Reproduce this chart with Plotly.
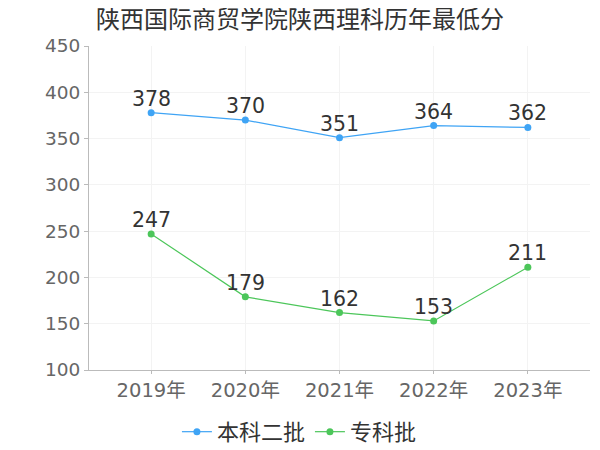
import plotly.graph_objects as go

years = ["2019年", "2020年", "2021年", "2022年", "2023年"]
benke = [378, 370, 351, 364, 362]
zhuanke = [247, 179, 162, 153, 211]

FONT = "DejaVu Sans, Noto Sans CJK SC"

fig = go.Figure()
fig.add_trace(go.Scatter(
    x=years, y=benke, name="本科二批", mode="lines+markers",
    line=dict(color="#3fa4f5", width=1.2),
    marker=dict(color="#3fa4f5", size=7)
))
fig.add_trace(go.Scatter(
    x=years, y=zhuanke, name="专科批", mode="lines+markers",
    line=dict(color="#4cc65a", width=1.2),
    marker=dict(color="#4cc65a", size=7)
))

# value labels just above each point
for series in (benke, zhuanke):
    for yr, v in zip(years, series):
        fig.add_annotation(x=yr, y=v, text=str(v), showarrow=False,
                           yanchor="middle", yshift=14,
                           font=dict(size=20.5, color="#333333"))

# page body has an 8px margin, so offsets are compensated here
fig.update_layout(
    width=600, height=450,
    paper_bgcolor="white", plot_bgcolor="white",
    font=dict(family=FONT, color="#666666"),
    title=dict(text="陕西国际商贸学院陕西理科历年最低分", x=292 / 600, xanchor="center",
               y=0.975, yanchor="middle",
               font=dict(family="Noto Sans CJK SC", size=24, color="#333333")),
    margin=dict(l=81, r=18, t=38, b=88, pad=0, autoexpand=False),
    showlegend=True,
    legend=dict(orientation="h", x=0.42, xanchor="center", y=-0.191, yanchor="middle",
                font=dict(family="Noto Sans CJK SC", size=22, color="#333333"),
                itemwidth=30, tracegroupgap=0),
    xaxis=dict(range=[-0.66, 4.66], showgrid=True, gridcolor="#f3f3f3",
               showline=True, linecolor="#bbbbbb", ticks="outside", ticklen=3,
               tickcolor="#bbbbbb", tickfont=dict(size=19.5, color="#666666"),
               automargin=False),
    yaxis=dict(range=[100, 450], dtick=50, showgrid=True, gridcolor="#f3f3f3",
               showline=True, linecolor="#bbbbbb", ticks="outside", ticklen=4,
               tickcolor="#bbbbbb", tickfont=dict(size=18.5, color="#666666"),
               zeroline=False, automargin=False),
)

fig.write_html("out.html")
